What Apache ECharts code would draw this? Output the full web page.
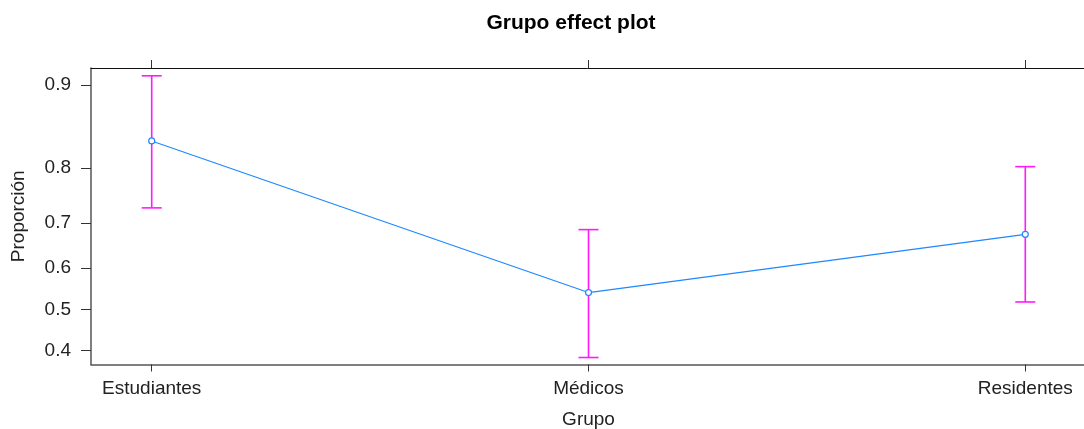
<!DOCTYPE html>
<html>
<head>
<meta charset="utf-8">
<script src="https://cdn.jsdelivr.net/npm/echarts@6/dist/echarts.min.js"></script>
<style>
  html, body { margin: 0; padding: 0; background: #fff; }
  #chart { width: 1084px; height: 429px; }
</style>
</head>
<body>
<div id="chart"></div>
<script>
// Grupo effect plot: fitted proportions with confidence intervals, on a logit scale
const categories = ['Estudiantes', 'Médicos', 'Residentes'];
const fitted = [0.839, 0.541, 0.676];
const lower = [0.730, 0.384, 0.518];
const upper = [0.908, 0.686, 0.802];
const yTicks = [0.4, 0.5, 0.6, 0.7, 0.8, 0.9];

const logit = p => Math.log(p / (1 - p));
const invLogit = v => 1 / (1 + Math.exp(-v));

const xMin = 0.861, xMax = 3.139;
const yMin = -0.541, yMax = 2.366;
const font = '"Liberation Sans", Arial, sans-serif';
const xPos = categories.map((_, i) => i + 1);

const lineData = fitted.map((p, i) => [xPos[i], logit(p)]);
const barData = categories.map((_, i) => [xPos[i], logit(lower[i]), logit(upper[i])]);

const chart = echarts.init(document.getElementById('chart'));
chart.setOption({
  animation: false,
  backgroundColor: '#fff',
  title: {
    text: 'Grupo effect plot',
    left: 566, top: 8, textAlign: 'center',
    textStyle: { fontFamily: font, fontSize: 21, fontWeight: 'bold', color: '#000' }
  },
  grid: {
    left: 91, top: 68, width: 995, height: 296.5,
    show: false, containLabel: false, outerBoundsMode: 'none'
  },
  xAxis: [
    {
      type: 'value', min: xMin, max: xMax, position: 'bottom',
      name: 'Grupo', nameLocation: 'middle', nameGap: 46,
      nameTextStyle: { fontFamily: font, fontSize: 19, color: '#222' },
      axisLine: { show: true, onZero: false, lineStyle: { color: '#555', width: 1.5 } },
      axisTick: { show: true, customValues: xPos, length: 7, lineStyle: { color: '#333', width: 1 } },
      axisLabel: {
        customValues: xPos, margin: 15,
        fontFamily: font, fontSize: 19, color: '#222',
        formatter: v => categories[Math.round(v) - 1]
      },
      splitLine: { show: false }
    },
    {
      type: 'value', min: xMin, max: xMax, position: 'top',
      axisLine: { show: true, onZero: false, lineStyle: { color: '#111', width: 1 } },
      axisTick: { show: true, customValues: xPos, length: 8, lineStyle: { color: '#333', width: 1 } },
      axisLabel: { show: false },
      splitLine: { show: false }
    }
  ],
  yAxis: {
    type: 'value', min: yMin, max: yMax,
    name: 'Proporción', nameLocation: 'middle', nameGap: 63, nameRotate: 90,
    nameTextStyle: { fontFamily: font, fontSize: 19, color: '#222' },
    axisLine: { show: true, onZero: false, lineStyle: { color: '#555', width: 1.5 } },
    axisTick: { show: true, customValues: yTicks.map(logit), length: 10, lineStyle: { color: '#333', width: 1 } },
    axisLabel: {
      customValues: yTicks.map(logit), margin: 20,
      fontFamily: font, fontSize: 19, color: '#222',
      formatter: v => invLogit(v).toFixed(1)
    },
    splitLine: { show: false }
  },
  series: [
    {
      type: 'line',
      data: lineData,
      symbol: 'circle', symbolSize: 6,
      lineStyle: { color: '#1e88ff', width: 1.2 },
      itemStyle: { color: '#fff', borderColor: '#1e88ff', borderWidth: 1.2 },
      z: 3
    },
    {
      type: 'custom',
      data: barData,
      encode: { x: 0, y: [1, 2] },
      renderItem: (params, api) => {
        const x = api.value(0);
        const lo = api.coord([x, api.value(1)]);
        const hi = api.coord([x, api.value(2)]);
        const half = 10;
        const style = { stroke: '#ff1aff', lineWidth: 1.6 };
        return {
          type: 'group',
          children: [
            { type: 'line', shape: { x1: lo[0], y1: lo[1], x2: hi[0], y2: hi[1] }, style },
            { type: 'line', shape: { x1: lo[0] - half, y1: lo[1], x2: lo[0] + half, y2: lo[1] }, style },
            { type: 'line', shape: { x1: hi[0] - half, y1: hi[1], x2: hi[0] + half, y2: hi[1] }, style }
          ]
        };
      },
      z: 2
    }
  ]
});
</script>
</body>
</html>
